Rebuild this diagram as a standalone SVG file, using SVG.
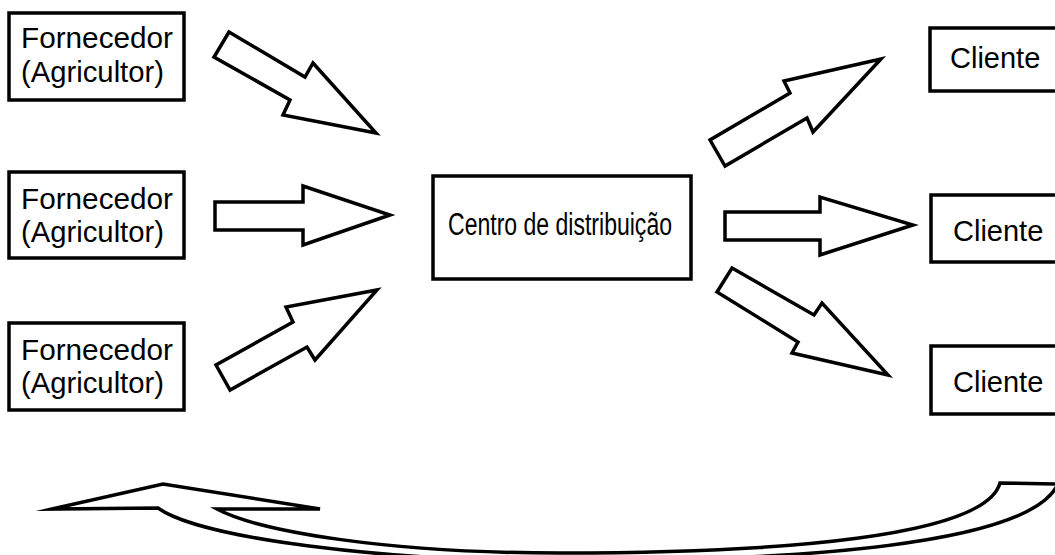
<svg xmlns="http://www.w3.org/2000/svg" width="1055" height="555" viewBox="0 0 1055 555">
<style>
.box{fill:#fff;stroke:#000;stroke-width:3.5}
.arrow{fill:#fff;stroke:#000;stroke-width:3.5;stroke-linejoin:miter;stroke-miterlimit:10}
.t{font-family:"Liberation Sans",Arial,sans-serif;fill:#000}
.f{font-size:29px}
.c{font-size:29px}
.m{font-size:31px}
</style>
<rect width="1055" height="555" fill="#fff"/>
<g id="connectors">
<polygon class="arrow" points="229,32 305,77 313,63 376,133 283,115 290,100 214,57"/>
<polygon class="arrow" points="215,202 303,202 303,186 390,215 303,245 303,230 215,230"/>
<polygon class="arrow" points="230,390 216,365 293,322 286,307 377,290 315,360 307,347"/>
<polygon class="arrow" points="725,166 710,140 790,93 784,81 881,59 813,132 807,118"/>
<polygon class="arrow" points="725,212 820,212 820,197 913,225 820,255 820,240 725,240"/>
<polygon class="arrow" points="732,268 814,315 822,303 888,375 792,353 798,342 717,292"/>
<path class="arrow" d="M52,509 L163,484 L320,509 L217,509 C260,532 390,553 560,553 C780,553 985,537 1000,483 L1058,484 C1030,545 800,561 560,561 C380,561 200,538 158,508 Z"/>
</g>
<g id="fornecedor1">
<rect class="box" x="9" y="13" width="175" height="87"/>
<text class="t f" x="21" y="48" textLength="152" lengthAdjust="spacingAndGlyphs">Fornecedor</text>
<text class="t f" x="21" y="82" textLength="143" lengthAdjust="spacingAndGlyphs">(Agricultor)</text>
</g>
<g id="fornecedor2">
<rect class="box" x="9" y="172" width="175" height="86"/>
<text class="t f" x="21" y="209" textLength="152" lengthAdjust="spacingAndGlyphs">Fornecedor</text>
<text class="t f" x="21" y="242" textLength="143" lengthAdjust="spacingAndGlyphs">(Agricultor)</text>
</g>
<g id="fornecedor3">
<rect class="box" x="9" y="323" width="175" height="87"/>
<text class="t f" x="21" y="360" textLength="152" lengthAdjust="spacingAndGlyphs">Fornecedor</text>
<text class="t f" x="21" y="393" textLength="143" lengthAdjust="spacingAndGlyphs">(Agricultor)</text>
</g>
<g id="centro">
<rect class="box" x="433" y="176" width="258" height="103"/>
<text class="t m" x="448" y="235" textLength="224" lengthAdjust="spacingAndGlyphs">Centro de distribuição</text>
</g>
<g id="cliente1">
<rect class="box" x="930" y="28" width="140" height="63"/>
<text class="t c" x="950" y="68">Cliente</text>
</g>
<g id="cliente2">
<rect class="box" x="931" y="195" width="140" height="67"/>
<text class="t c" x="953" y="241">Cliente</text>
</g>
<g id="cliente3">
<rect class="box" x="931" y="346" width="140" height="68"/>
<text class="t c" x="953" y="392">Cliente</text>
</g>
</svg>
